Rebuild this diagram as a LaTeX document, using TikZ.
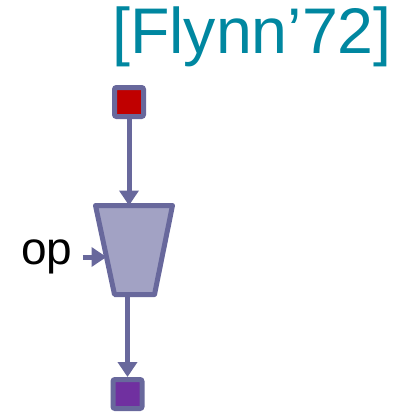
\documentclass[tikz,border=0pt]{standalone}
\usepackage{fontspec}
\setmainfont{Liberation Sans}
\usepackage{xcolor}
\usepackage{tikz}
\usetikzlibrary{positioning,calc,arrows.meta}

\definecolor{wire}{HTML}{68689C}
\definecolor{alufill}{HTML}{A2A2C4}
\definecolor{datared}{HTML}{C00000}
\definecolor{datapurple}{HTML}{7030A0}
\definecolor{titleteal}{HTML}{0087A0}

\tikzset{
    wirearrow/.style={draw=wire, line width=5pt, -{Triangle[length=15pt,width=19pt]}},
    databox/.style={draw=wire, line width=5pt, rounded corners=2pt, minimum size=29pt, inner sep=0pt},
}

\begin{document}
\begin{tikzpicture}[x=1pt,y=-1pt]
    \useasboundingbox (0,0) rectangle (405,415);

    % Title
    \node[text=titleteal, inner sep=0pt, font=\fontsize{64.5}{70}\selectfont] (title) at (252,37) {[Flynn’72]};

    % Data in and out
    \node[databox, fill=datared] (src) at (129,102) {};
    \node[databox, fill=datapurple] (dst) at (127.5,394) {};

    % ALU
    \draw[wire, fill=alufill, line width=5pt, line join=round]
        (95.5,205.5) -- (172.5,205.5) -- (154.5,294.5) -- (114.5,294.5) -- cycle;
    \coordinate (alutop) at (129,205.5);
    \coordinate (alubot) at (127.5,294.5);
    \coordinate (aluleft) at (106.5,257);

    % Operation select
    \node[inner sep=10pt, font=\fontsize{46}{50}\selectfont] (op) at (47,257) {op};

    % Wires
    \draw[wirearrow] (src) -- (alutop);
    \draw[wirearrow] (alubot) -- (dst);
    \draw[wirearrow] (op.east) -- (aluleft);
\end{tikzpicture}
\end{document}
